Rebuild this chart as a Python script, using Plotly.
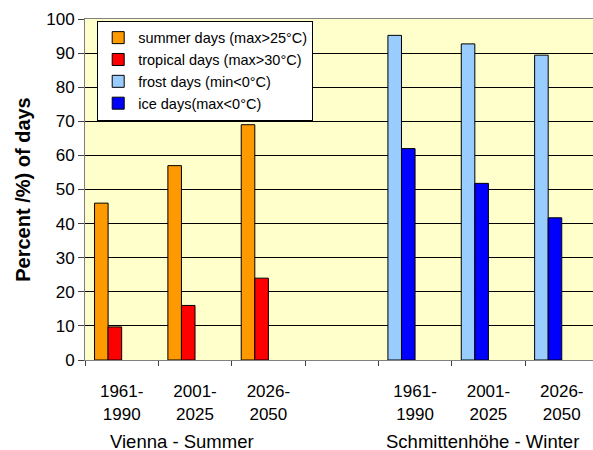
import plotly.graph_objects as go

# ---- data ----
periods = ["1961-<br>1990", "2001-<br>2025", "2026-<br>2050"]
vienna_pos = [0, 1, 2]
schmitten_pos = [4, 5, 6]
group_labels = ["Vienna - Summer", "Schmittenhöhe - Winter"]

summer_days = [46, 57, 69]
tropical_days = [9.7, 16, 24]
frost_days = [95.2, 92.7, 89.4]
ice_days = [62, 51.8, 41.7]

series_names = ["summer days (max>25°C)", "tropical days (max>30°C)",
                "frost days (min<0°C)", "ice days(max<0°C)"]
colors = ["#FF9900", "#FF0000", "#99CCFF", "#0000FF"]

# ---- layout constants ----
FONT = "Liberation Sans, Arial, sans-serif"
BW = 0.185
W, H = 593, 450
ML, MR, MT, MB = 85, 0, 19, 90
PW, PH = W - ML - MR, H - MT - MB
group_label_px = [(182, 441.5), (482.5, 441.5)]

fig = go.Figure()
traces = [
    (vienna_pos, summer_days, -2 * BW),
    (vienna_pos, tropical_days, -BW),
    (schmitten_pos, frost_days, -2 * BW),
    (schmitten_pos, ice_days, -BW),
]
for (xs, ys, off), name, col in zip(traces, series_names, colors):
    fig.add_trace(go.Bar(
        x=xs, y=ys, name=name, width=BW, offset=off,
        marker=dict(color=col, line=dict(color="#000000", width=1)),
    ))

for lab, (px, py) in zip(group_labels, group_label_px):
    fig.add_annotation(
        x=(px - ML) / PW, xref="paper", y=(H - MB - py) / PH, yref="paper",
        text=lab, showarrow=False, yanchor="middle", xanchor="center",
        font=dict(size=18.5, color="#000000", family=FONT),
    )

fig.update_layout(
    width=W, height=H,
    margin=dict(l=ML, r=MR, t=MT, b=MB, autoexpand=False),
    paper_bgcolor="#FFFFFF",
    plot_bgcolor="#FFFFCC",
    barmode="overlay",
    font=dict(family=FONT, size=17, color="#000000"),
    showlegend=True,
    legend=dict(
        x=0.024, y=0.995, xanchor="left", yanchor="top",
        bgcolor="#FFFFFF", bordercolor="#000000", borderwidth=1,
        font=dict(size=14.5, family=FONT, color="#000000"),
        tracegroupgap=0, itemwidth=30,
    ),
    xaxis=dict(
        range=[-0.5, 6.426],
        automargin=False,
        tickmode="array",
        tickvals=vienna_pos + schmitten_pos,
        ticktext=periods + periods,
        ticks="",
        ticklabelstandoff=16,
        showgrid=False, zeroline=False,
        showline=True, linecolor="#808080", linewidth=1, mirror=True,
        tickfont=dict(size=17, family=FONT),
        minor=dict(tick0=-0.5, dtick=1, ticks="outside", ticklen=5,
                   tickcolor="#404040", tickwidth=1, showgrid=False),
    ),
    yaxis=dict(
        range=[0, 100], dtick=10, tick0=0,
        automargin=False,
        ticks="outside", ticklen=6, tickcolor="#404040",
        showgrid=True, gridcolor="#000000", gridwidth=1,
        zeroline=False,
        showline=True, linecolor="#808080", linewidth=1,
        tickfont=dict(size=17, family=FONT),
        title=dict(text="<b>Percent /%) of days</b>", standoff=10,
                   font=dict(size=20, family=FONT)),
    ),
)

fig.write_html(
    "out.html",
    config={"displayModeBar": False},
    post_script="document.body.style.margin='0';document.body.style.padding='0';",
)
